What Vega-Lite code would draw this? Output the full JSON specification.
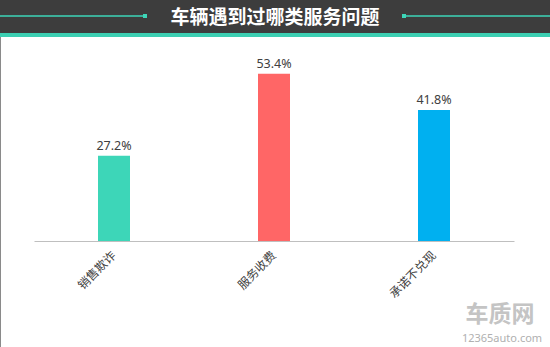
{
  "$schema": "https://vega.github.io/schema/vega-lite/v6.json",
  "width": 550,
  "height": 347,
  "padding": 0,
  "autosize": {"type": "none"},
  "background": "white",
  "config": {
    "view": {"stroke": "#8a8a8a", "strokeWidth": 1},
    "font": "Noto Sans CJK SC"
  },
  "data": {
    "values": [
      {"category": "销售欺诈", "value": 27.2, "label": "27.2%"},
      {"category": "服务收费", "value": 53.4, "label": "53.4%"},
      {"category": "承诺不兑现", "value": 41.8, "label": "41.8%"}
    ]
  },
  "layer": [
    {
      "data": {"values": [{}]},
      "mark": {"type": "rect", "color": "#3d3d3d"},
      "encoding": {"x": {"value": 0}, "x2": {"value": 550}, "y": {"value": 0}, "y2": {"value": 33}}
    },
    {
      "data": {"values": [{}]},
      "mark": {"type": "rect", "color": "#3ccfb2"},
      "encoding": {"x": {"value": 0}, "x2": {"value": 550}, "y": {"value": 33}, "y2": {"value": 37}}
    },
    {
      "data": {"values": [{}]},
      "mark": {"type": "rule", "color": "#3dd6b8", "strokeWidth": 1.5},
      "encoding": {"x": {"value": 0}, "x2": {"value": 146}, "y": {"value": 16}}
    },
    {
      "data": {"values": [{}]},
      "mark": {"type": "rule", "color": "#3dd6b8", "strokeWidth": 1.5},
      "encoding": {"x": {"value": 403}, "x2": {"value": 550}, "y": {"value": 16}}
    },
    {
      "data": {"values": [{}]},
      "mark": {"type": "rect", "color": "#3dd6b8"},
      "encoding": {"x": {"value": 143}, "x2": {"value": 147}, "y": {"value": 14}, "y2": {"value": 18}}
    },
    {
      "data": {"values": [{}]},
      "mark": {"type": "rect", "color": "#3dd6b8"},
      "encoding": {"x": {"value": 402}, "x2": {"value": 406}, "y": {"value": 14}, "y2": {"value": 18}}
    },
    {
      "data": {"values": [{}]},
      "mark": {"type": "text", "color": "white", "fontSize": 19, "fontWeight": "bold", "align": "center", "baseline": "middle"},
      "encoding": {"x": {"value": 275}, "y": {"value": 18}, "text": {"value": "车辆遇到过哪类服务问题"}}
    },
    {
      "mark": {"type": "bar"},
      "encoding": {
        "x": {
          "field": "category", "type": "nominal", "sort": null,
          "scale": {"range": [34, 514], "paddingInner": 0.8, "paddingOuter": 0.4},
          "axis": {
            "title": null, "orient": "bottom", "offset": -106,
            "labelAngle": -45, "labelAlign": "right", "labelBaseline": "middle",
            "labelPadding": 12, "labelFontSize": 12, "labelColor": "#404040",
            "ticks": false, "domainColor": "#bfbfbf", "domainWidth": 1.2,
            "labelFont": "Noto Sans CJK SC"
          }
        },
        "y": {"field": "value", "type": "quantitative", "scale": {"domain": [0, 60], "range": [241, 53]}, "axis": null},
        "color": {
          "field": "category", "type": "nominal",
          "scale": {"domain": ["销售欺诈", "服务收费", "承诺不兑现"], "range": ["#3dd6b8", "#ff6666", "#00b0f0"]},
          "legend": null
        }
      }
    },
    {
      "mark": {"type": "text", "fontSize": 12.5, "color": "#404040", "baseline": "alphabetic", "dy": -6, "font": "Noto Sans"},
      "encoding": {
        "x": {"field": "category", "type": "nominal", "sort": null},
        "y": {"field": "value", "type": "quantitative"},
        "text": {"field": "label"}
      }
    },
    {
      "data": {"values": [{}]},
      "mark": {"type": "text", "color": "#c4c4c4", "fontSize": 23, "fontWeight": "bold", "align": "center", "baseline": "middle"},
      "encoding": {"x": {"value": 500}, "y": {"value": 315}, "text": {"value": "车质网"}}
    },
    {
      "data": {"values": [{}]},
      "mark": {"type": "text", "color": "#b0b0b0", "fontSize": 11, "align": "center", "baseline": "middle", "font": "Noto Sans"},
      "encoding": {"x": {"value": 502}, "y": {"value": 339}, "text": {"value": "12365auto.com"}}
    }
  ]
}
